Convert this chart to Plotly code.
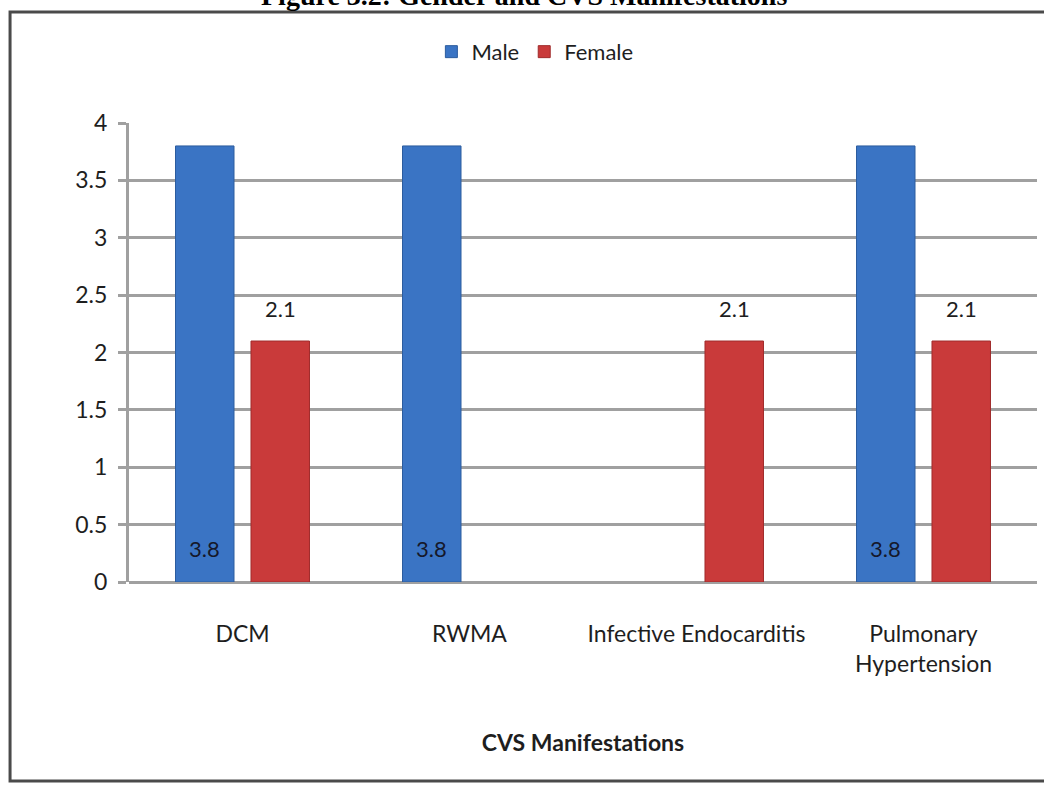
import plotly.graph_objects as go

# Data
categories = ["DCM", "RWMA", "Infective Endocarditis", "Pulmonary<br>Hypertension"]
male = [3.8, 3.8, None, 3.8]
female = [2.1, None, 2.1, 2.1]
y_ticks = [0, 0.5, 1, 1.5, 2, 2.5, 3, 3.5, 4]

FONT = "Lato, Liberation Sans, sans-serif"
BLUE = "#3a74c4"
RED = "#c93a3a"
GRID = "#a0a0a0"
TEXT = "#1e1e1e"

fig = go.Figure()
fig.add_trace(go.Bar(name="Male", x=categories, y=male,
                     marker=dict(color=BLUE, line=dict(color="#2c5c9e", width=1))))
fig.add_trace(go.Bar(name="Female", x=categories, y=female,
                     marker=dict(color=RED, line=dict(color="#a02c2c", width=1))))

# Value labels: male at the bar base, female above the bar
annotations = []
for cat, m, f in zip(categories, male, female):
    if m is not None:
        annotations.append(dict(x=cat, y=0, text=f"{m}", showarrow=False,
                                xshift=-37.7, yshift=34, xref="x", yref="y",
                                font=dict(family=FONT, size=22, color="#15182a")))
    if f is not None:
        annotations.append(dict(x=cat, y=f, text=f"{f}", showarrow=False,
                                xshift=37.7, yshift=33, xref="x", yref="y",
                                font=dict(family=FONT, size=22, color=TEXT)))

# Figure caption, cut by the top edge of the page
annotations.append(dict(x=0.435, y=1.2407, xref="paper", yref="paper",
                        xanchor="center", yanchor="bottom", showarrow=False,
                        text="<b>Figure 3.2: Gender and CVS Manifestations</b>",
                        font=dict(family="Liberation Serif, Times New Roman, serif",
                                  size=28, color="#000000")))

fig.update_layout(
    width=1044, height=785,
    margin=dict(l=129, r=7, t=123, b=203),
    paper_bgcolor="white", plot_bgcolor="white",
    barmode="group", bargap=0.335, bargroupgap=0.225,
    font=dict(family=FONT, size=21, color=TEXT),
    legend=dict(orientation="h", x=0.447, y=1.155, xanchor="center", yanchor="middle",
                font=dict(family=FONT, size=22, color=TEXT),
                itemwidth=30, tracegroupgap=0, bgcolor="rgba(0,0,0,0)"),
    annotations=annotations,
    shapes=[
        # outer frame
        dict(type="rect", xref="paper", yref="paper",
             x0=-0.131, x1=1.02, y0=-0.4336, y1=1.2418,
             line=dict(color="#4a4a4a", width=3), fillcolor="rgba(0,0,0,0)", layer="below"),
    ],
)

fig.update_xaxes(
    showgrid=False, showline=False, ticks="",
    tickfont=dict(family=FONT, size=23, color=TEXT),
    ticklabelstandoff=36,
    title=dict(text="<b>CVS Manifestations</b>", standoff=58,
               font=dict(family=FONT, size=23, color=TEXT)),
)
fig.update_yaxes(
    range=[0, 4], tickvals=y_ticks, ticktext=[f"{v:g}" for v in y_ticks],
    showgrid=True, gridcolor=GRID, gridwidth=3,
    zeroline=True, zerolinecolor=GRID, zerolinewidth=3,
    showline=True, linecolor=GRID, linewidth=3,
    ticks="outside", ticklen=8, tickcolor=GRID, tickwidth=3,
    tickfont=dict(family=FONT, size=23, color=TEXT),
    ticklabelstandoff=6,
)

fig.write_html("out.html")
